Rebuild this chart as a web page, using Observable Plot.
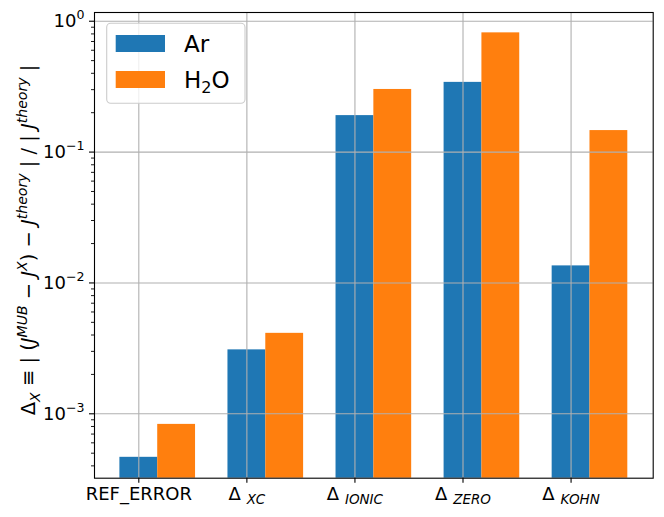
<!DOCTYPE html>
<html><head><meta charset="utf-8">
<script src="https://cdn.jsdelivr.net/npm/d3@7"></script>
<script src="https://cdn.jsdelivr.net/npm/@observablehq/plot@0.6"></script>
<style>
html,body{margin:0;padding:0;background:#fff;}
#chart{width:664px;height:517px;}
</style></head><body><div id="chart"></div>
<script>
// ---- data ----
const categories = ["REF_ERROR", "Δ_XC", "Δ_IONIC", "Δ_ZERO", "Δ_KOHN"];
const seriesNames = ["Ar", "H₂O"];
const arValues = [4.65e-4, 3.08e-3, 0.190, 0.341, 0.0135];
const h2oValues = [8.3e-4, 4.12e-3, 0.301, 0.815, 0.146];
const colors = ["#1f77b4", "#ff7f0e"];
const yTickValues = [1e-3, 1e-2, 1e-1, 1];
const yTickLabels = ["10^−3", "10^−2", "10^−1", "10^0"];
const barWidth = 0.35;
const yDomain = [3.22e-4, 1.166];
const xDomain = [-0.41, 4.76];

const bars = [];
categories.forEach((c, i) => {
  bars.push({series: seriesNames[0], x1: i - barWidth / 2, x2: i + barWidth / 2, value: arValues[i]});
  bars.push({series: seriesNames[1], x1: i + barWidth / 2, x2: i + 1.5 * barWidth, value: h2oValues[i]});
});
const minorTicks = [];
for (let e = -4; e <= 0; e++) for (let k = 2; k <= 9; k++) {
  const v = k * Math.pow(10, e);
  if (v > yDomain[0] && v < yDomain[1]) minorTicks.push(v);
}

const plot = Plot.plot({
  width: 664, height: 517,
  marginLeft: 94, marginRight: 11.3, marginTop: 12, marginBottom: 39.3,
  style: {fontFamily: "DejaVu Sans", fontSize: "18px", color: "#000", background: "#fff", overflow: "visible"},
  x: {type: "linear", domain: xDomain, label: null},
  y: {type: "log", domain: yDomain, label: null},
  color: {domain: seriesNames, range: colors},
  marks: [
    Plot.rect(bars, {x1: "x1", x2: "x2", y1: () => yDomain[0], y2: "value", fill: "series"}),
    Plot.gridX({ticks: categories.map((c, i) => i), stroke: "#b0b0b0", strokeOpacity: 1, strokeWidth: 1.1}),
    Plot.gridY({ticks: yTickValues, stroke: "#b0b0b0", strokeOpacity: 1, strokeWidth: 1.1}),
    Plot.frame({stroke: "#000", strokeWidth: 1.1}),
    Plot.axisX({ticks: categories.map((c, i) => i), tickFormat: i => categories[i], tickSize: 5, tickPadding: 4, fontSize: 18, strokeWidth: 1.1}),
    Plot.axisY({ticks: yTickValues, tickFormat: d => yTickLabels[yTickValues.indexOf(d)], tickSize: 5, tickPadding: 5, fontSize: 18, strokeWidth: 1.1}),
    Plot.axisY({ticks: minorTicks, tickFormat: () => "", tickSize: 3, strokeWidth: 0.9})
  ]
});
document.getElementById("chart").appendChild(plot);

const svg = d3.select(plot);

function fillParts(textEl, parts, baseSize) {
  const t = d3.select(textEl);
  t.text(null);
  let shift = 0;
  parts.forEach(p => {
    const s = t.append("tspan").text(p.t);
    const target = p.shift || 0;
    if (target !== shift) { s.attr("dy", (target - shift) + "px"); shift = target; }
    if (p.italic) s.attr("font-style", "italic");
    if (p.size) s.attr("font-size", (baseSize * p.size) + "px");
  });
}

// x tick labels
svg.selectAll('g[aria-label="x-axis tick label"] text').each(function () {
  const txt = this.textContent;
  if (txt.startsWith("Δ_")) {
    fillParts(this, [{t: "Δ"}, {t: " "}, {t: txt.slice(2), italic: true, size: 0.75, shift: 4}], 18);
  }
});
// y tick labels
svg.selectAll('g[aria-label="y-axis tick label"] text').each(function () {
  const txt = this.textContent;
  if (txt.includes("^")) {
    const [b, e] = txt.split("^");
    fillParts(this, [{t: b}, {t: e, size: 0.7, shift: -7.5}], 18);
  }
});

// y axis label
const yl = svg.append("text")
  .attr("transform", "translate(35,240) rotate(-90)")
  .attr("text-anchor", "middle")
  .attr("font-size", "19.5px")
  .attr("fill", "#000");
const sup = -8, sub = 4.5;
fillParts(yl.node(), [
  {t: "Δ"}, {t: "X", italic: true, size: 0.72, shift: sub},
  {t: " ≡ | ("}, {t: "J", italic: true}, {t: "MUB", italic: true, size: 0.72, shift: sup},
  {t: " − "}, {t: "J", italic: true}, {t: "X", italic: true, size: 0.72, shift: sup},
  {t: ") − "}, {t: "J", italic: true}, {t: "theory", italic: true, size: 0.72, shift: sup},
  {t: " | / | "}, {t: "J", italic: true}, {t: "theory", italic: true, size: 0.72, shift: sup},
  {t: " |"}
], 19.5);

// legend
const lg = svg.append("g").attr("text-anchor", "start");
lg.append("rect").attr("x", 106.7).attr("y", 23.3).attr("width", 138.3).attr("height", 80)
  .attr("rx", 4).attr("fill", "#fff").attr("fill-opacity", 0.8).attr("stroke", "#cccccc").attr("stroke-width", 1.1);
seriesNames.forEach((name, i) => {
  const y0 = 35 + i * 36;
  lg.append("rect").attr("x", 115.7).attr("y", y0).attr("width", 49.3).attr("height", 17).attr("fill", colors[i]);
  const t = lg.append("text").attr("x", 184).attr("y", y0 + 8.5).attr("dy", "0.36em")
    .attr("text-anchor", "start").attr("font-size", "23px").attr("fill", "#000");
  if (name === "H₂O") {
    fillParts(t.node(), [{t: "H"}, {t: "2", size: 0.7, shift: 5}, {t: "O"}], 23);
  } else {
    t.text(name);
  }
});
</script></body></html>
